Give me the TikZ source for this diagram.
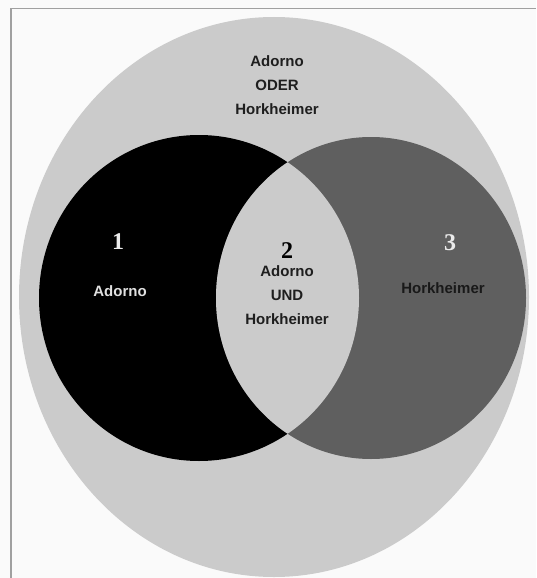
\documentclass[tikz,border=0pt]{standalone}
\usepackage{fontspec}
\setmainfont{Liberation Sans}
\newfontfamily\numfont{Liberation Serif}
\usepackage{tikz}
\usetikzlibrary{positioning}
\definecolor{framegray}{HTML}{A0A0A0}
\definecolor{setgray}{HTML}{CBCBCB}
\definecolor{rightgray}{HTML}{5F5F5F}
\definecolor{textdark}{HTML}{1E1E1E}
\tikzset{
  every picture/.style={
    x=1pt, y=-1pt
  },
  set label/.style={
    font=\fontsize{15}{24}\selectfont\bfseries,
    align=center, inner sep=0pt, text=textdark
  },
  set number/.style={
    font=\fontsize{24}{24}\numfont\bfseries,
    inner sep=0pt
  }
}
\begin{document}
\begin{tikzpicture}
      \useasboundingbox[fill=white!98!black] (0,0) rectangle (536,578);
      \draw[framegray, line width=1.6pt] (11,578) -- (11,8.5) -- (536,8.5);
      \fill[setgray] (274,297) ellipse [x radius=255, y radius=280];
      \fill[black] (199,298) ellipse [x radius=160, y radius=163];
      \fill[rightgray] (371,298) ellipse [x radius=155, y radius=161];
      \begin{scope}
        \clip (199,298) ellipse [x radius=160, y radius=163];
        \fill[setgray] (371,298) ellipse [x radius=155, y radius=161];
      \end{scope}
      \node[set label] (union) at (277,85) {Adorno\\ODER\\Horkheimer};
      \node[set number, text=white!92!black] (n1) at (118,242) {1};
      \node[set label, text=white!88!black] (adorno) at (120,291) {Adorno};
      \node[set number] (n2) at (287,251) {2};
      \node[set label] (both) at (287,295) {Adorno\\UND\\Horkheimer};
      \node[set number, text=white!92!black] (n3) at (450,243) {3};
      \node[set label, text=black!90] (horkheimer) at (443,288) {Horkheimer};
    \end{tikzpicture}
\end{document}
